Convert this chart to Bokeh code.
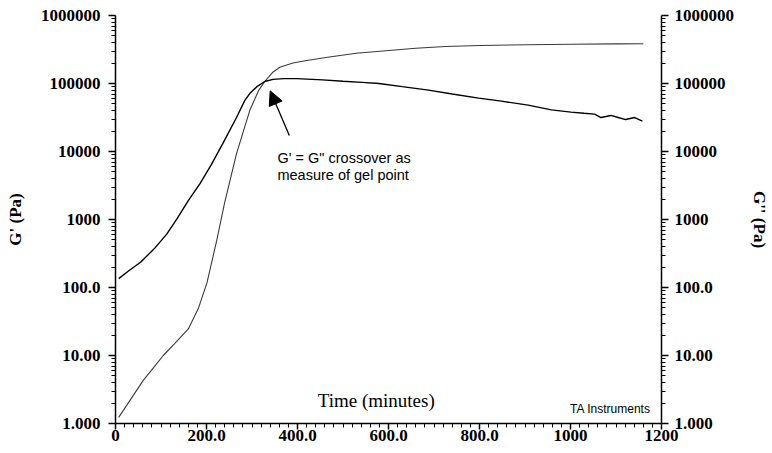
from bokeh.plotting import figure
from bokeh.models import LogAxis, Range1d, FixedTicker, Label, Arrow, NormalHead
from bokeh.embed import file_html
from bokeh.resources import INLINE

# ---- data ----
t_gp = [7, 30, 61, 85, 105, 130, 160, 182, 201, 223, 240, 266, 295, 315, 328,
        345, 361, 390, 420, 470, 529, 601, 660, 725, 800, 907, 1000, 1100, 1160]
g_prime = [1.23, 2.1, 4.3, 6.8, 10, 15, 24.6, 49, 117, 510, 1780, 9300, 40000, 80000, 107000,
           145000, 173000, 200000, 218000, 245000, 278000, 305000, 330000, 350000, 362000,
           372000, 378000, 383000, 385000]

t_gpp = [7, 30, 55, 85, 113, 135, 160, 186, 210, 236, 266, 284, 295, 310, 328, 346, 370,
         398, 455, 500, 542, 579, 630, 688, 740, 798, 848, 907, 958, 1001, 1030, 1053,
         1067, 1089, 1105, 1121, 1141, 1158]
g_dprime = [135, 178, 235, 370, 615, 1020, 1900, 3400, 6300, 13200, 31600, 56000, 71000,
            89000, 107000, 115000, 118000, 118000, 113000, 108000, 104000, 100000, 90000,
            80000, 70000, 61000, 55000, 48000, 41000, 38000, 36500, 35500, 31600, 33900,
            31600, 29500, 31600, 28000]

x_ticks = [0, 200, 400, 600, 800, 1000, 1200]
x_tick_labels = ["0", "200.0", "400.0", "600.0", "800.0", "1000", "1200"]
y_ticks = [1, 10, 100, 1000, 10000, 100000, 1000000]
y_tick_labels = ["1.000", "10.00", "100.0", "1000", "10000", "100000", "1000000"]

SERIF = "Liberation Serif"
SANS = "Liberation Sans"

p = figure(width=772, height=453, x_range=Range1d(0, 1200), y_range=Range1d(1, 1e6),
           y_axis_type="log", output_backend="svg", toolbar_location=None,
           min_border_left=115, min_border_right=108, min_border_top=15,
           min_border_bottom=30, background_fill_color="white",
           border_fill_color="white")
p.outline_line_color = None
p.xgrid.visible = False
p.ygrid.visible = False

p.line(t_gp, g_prime, line_color="#3a3a3a", line_width=1.1)
p.line(t_gpp, g_dprime, line_color="black", line_width=1.4)

y_minor = [k * 10 ** n for n in range(0, 6) for k in range(2, 10)]
y_over = {v: s for v, s in zip(y_ticks, y_tick_labels)}

right = LogAxis()
p.add_layout(right, "right")


def style_axis(ax):
    ax.axis_line_width = 1.5
    ax.axis_line_color = "black"
    ax.major_tick_line_width = 1.5
    ax.minor_tick_line_width = 1
    ax.major_tick_in = 0
    ax.minor_tick_in = 0
    ax.major_tick_out = 7
    ax.minor_tick_out = 4
    ax.major_label_text_font = SERIF
    ax.major_label_text_font_style = "bold"
    ax.major_label_text_font_size = "17px"
    ax.major_label_text_color = "black"
    ax.axis_label_text_font = SERIF
    ax.axis_label_text_font_style = "bold"
    ax.axis_label_text_font_size = "17px"
    ax.axis_label_text_color = "black"


for ax in [p.yaxis[0], right]:
    style_axis(ax)
    ax.ticker = FixedTicker(ticks=y_ticks, minor_ticks=y_minor)
    ax.major_label_overrides = y_over

p.yaxis[0].major_label_standoff = 8
p.yaxis[0].axis_label = "G' (Pa)"
p.yaxis[0].axis_label_standoff = 13
right.major_label_standoff = 6
right.axis_label = "G'' (Pa)"
right.axis_label_standoff = 13

xa = p.xaxis[0]
style_axis(xa)
xa.ticker = FixedTicker(ticks=x_ticks, minor_ticks=list(range(0, 1201, 20)))
xa.major_label_overrides = {v: s for v, s in zip(x_ticks, x_tick_labels)}
xa.major_tick_out = 6
xa.minor_tick_out = 4
xa.major_label_standoff = 0

# in-plot texts
p.add_layout(Label(x=573, y=2.2, text="Time (minutes)", text_font=SERIF,
                   text_font_size="19px", text_align="center", text_baseline="middle",
                   text_color="black"))
p.add_layout(Label(x=1176, y=1.66, text="TA Instruments", text_font=SANS,
                   text_font_size="12px", text_align="right", text_baseline="middle",
                   text_color="black"))
p.add_layout(Label(x=356, y=8130, text="G' = G\" crossover as", text_font=SANS,
                   text_font_size="14.5px", text_align="left", text_baseline="middle",
                   text_color="black"))
p.add_layout(Label(x=356, y=4470, text="measure of gel point", text_font=SANS,
                   text_font_size="14.5px", text_align="left", text_baseline="middle",
                   text_color="black"))
p.add_layout(Arrow(end=NormalHead(size=14, fill_color="black", line_color="black"),
                   x_start=382, y_start=17200, x_end=340, y_end=78000,
                   line_width=1.3, line_color="black"))

open("out.html", "w").write(file_html(p, INLINE))
